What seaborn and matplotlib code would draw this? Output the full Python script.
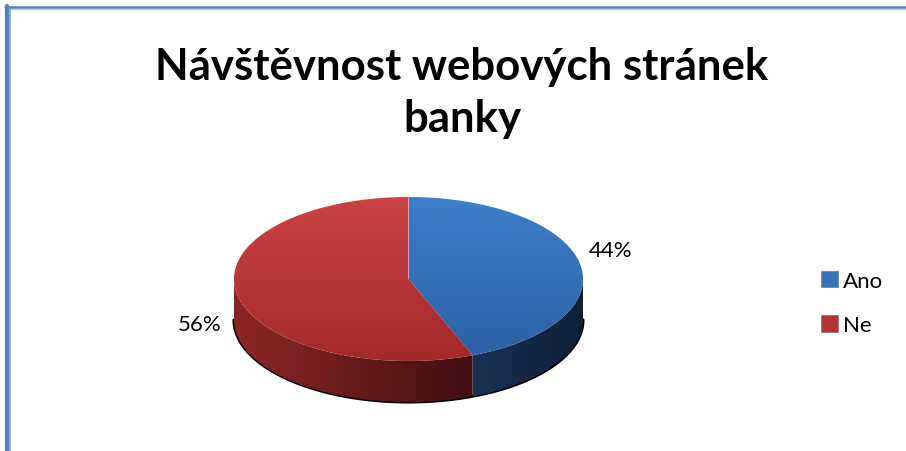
import numpy as np
import matplotlib
matplotlib.use("Agg")
import matplotlib.pyplot as plt
import seaborn as sns
from matplotlib.patches import Polygon, Patch
from matplotlib.colors import LinearSegmentedColormap
from matplotlib.lines import Line2D

# ---- data ----
title = "Návštěvnost webových stránek\nbanky"
categories = ["Ano", "Ne"]
values = [44, 56]

sns.set_style("white")
plt.rcParams['font.family'] = ['Lato', 'DejaVu Sans']

top_colors = [("#3d7fcb", "#2d62a4"), ("#cb4343", "#a32a2a")]
side_colors = [("#1a3153", "#0f1f38"), ("#8e2626", "#421010")]
legend_colors = ["#3a72b8", "#b83232"]

W, H = 906, 452
fig = plt.figure(figsize=(W / 100, H / 100), dpi=100)
ax = fig.add_axes([0, 0, 1, 1])
ax.set_xlim(0, W)
ax.set_ylim(H, 0)
ax.axis("off")

# pie geometry (layout)
cx, cy, rx, ry, depth = 408.5, 280, 174.5, 82, 41

total = sum(values)
fracs = [v / total for v in values]
starts, ends = [], []
a = 90.0
for f in fracs:
    starts.append(a)
    a -= f * 360
    ends.append(a)


def ept(theta_deg, dy=0.0):
    t = np.radians(theta_deg)
    return cx + rx * np.cos(t), cy - ry * np.sin(t) + dy


def grad_fill(poly_xy, c1, c2, horizontal=False, extent=None):
    poly = Polygon(poly_xy, closed=True, facecolor="none", edgecolor="none")
    ax.add_patch(poly)
    cmap = LinearSegmentedColormap.from_list("g", [c1, c2])
    xs = [p[0] for p in poly_xy]
    ys = [p[1] for p in poly_xy]
    x0, x1, y0, y1 = min(xs), max(xs), min(ys), max(ys)
    if extent is not None:
        x0, x1 = extent
    if horizontal:
        g = np.linspace(0, 1, 256).reshape(1, -1)
    else:
        g = np.linspace(0, 1, 256).reshape(-1, 1)
    im = ax.imshow(g, cmap=cmap, extent=(x0, x1, y1, y0), aspect="auto",
                   origin="upper", interpolation="bilinear", zorder=2)
    im.set_clip_path(poly)
    ax.set_xlim(0, W)
    ax.set_ylim(H, 0)


# shadow outline around bottom
th = np.linspace(-180, 0, 200)
bx = [ept(t, depth)[0] for t in th]
by = [ept(t, depth)[1] for t in th]
ax.plot(bx, by, color="black", lw=2.2, zorder=1.5, solid_capstyle="round")

# sides (front half only)
for i in range(len(values)):
    s, e = starts[i], ends[i]
    lo, hi = max(e, -180), min(s, 0)
    if hi > lo:
        ts = np.linspace(hi, lo, 120)
        top = [ept(t) for t in ts]
        bot = [ept(t, depth) for t in ts[::-1]]
        grad_fill(top + bot, side_colors[i][0], side_colors[i][1],
                  horizontal=True)

# top faces
for i in range(len(values)):
    ts = np.linspace(starts[i], ends[i], 200)
    pts = [(cx, cy)] + [ept(t) for t in ts]
    grad_fill(pts, top_colors[i][0], top_colors[i][1])

# percentage labels
lab_pos = [(611, 251), (200, 325)]
for i, v in enumerate(values):
    ax.text(lab_pos[i][0], lab_pos[i][1], f"{fracs[i]:.0%}", fontsize=16,
            ha="center", va="center", color="black", zorder=5)

# title
fig.text(0.51, 1 - 93 / H, title, ha="center", va="center", fontsize=31.5,
         fontweight="bold", linespacing=1.36, color="black")

# legend
handles = [Patch(facecolor=legend_colors[i], edgecolor="#777777", lw=0.5,
                 label=categories[i]) for i in range(len(categories))]
leg = ax.legend(handles=handles, loc="center left",
                bbox_to_anchor=(801 / W, 1 - 304 / H), frameon=False,
                fontsize=16, handlelength=0.75, handleheight=0.75,
                handletextpad=0.25, labelspacing=1.1)
for t in leg.get_texts():
    t.set_color("black")

# frame lines (border)
fig.add_artist(Line2D([6.5 / W, 6.5 / W], [0, 1 - 7 / H], color="#4f81bd", lw=3))
fig.add_artist(Line2D([9.5 / W, 9.5 / W], [0, 1 - 10 / H], color="#7ea3d3", lw=1.2))
fig.add_artist(Line2D([5 / W, 1], [1 - 8 / H, 1 - 8 / H], color="#4f81bd", lw=1.8))
fig.add_artist(Line2D([10 / W, 1], [1 - 10 / H, 1 - 10 / H], color="#a9c3e3", lw=0.9))

fig.savefig("out.png", dpi=100)
